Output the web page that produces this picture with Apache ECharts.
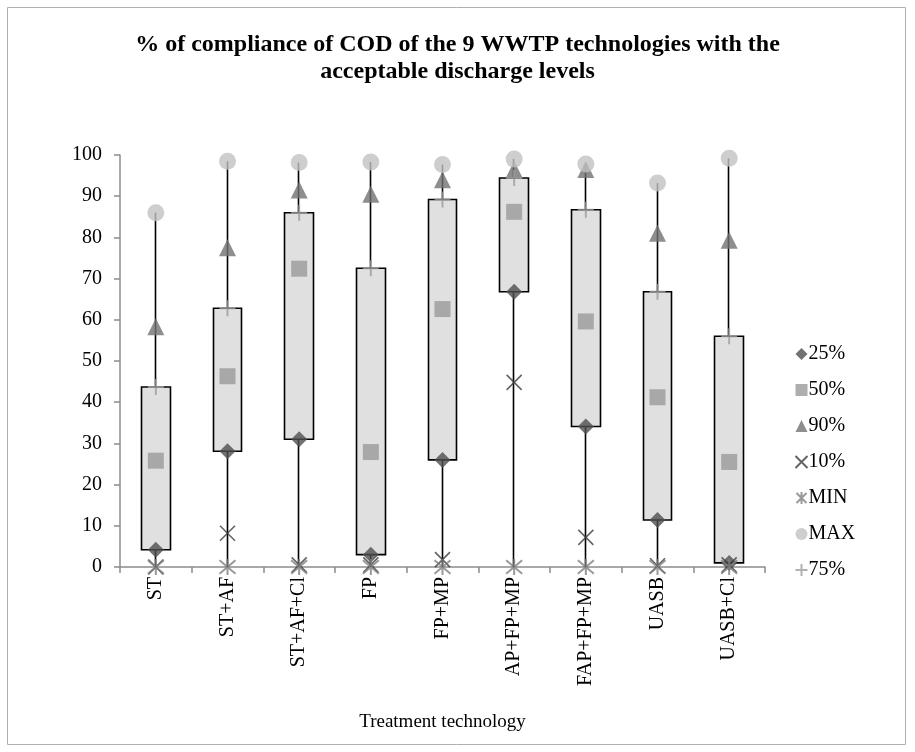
<!DOCTYPE html>
<html>
<head>
<meta charset="utf-8">
<script src="https://cdn.jsdelivr.net/npm/echarts@6/dist/echarts.min.js"></script>
<style>
  html, body { margin: 0; padding: 0; background: #fff; }
  #chart { width: 915px; height: 752px; }
</style>
</head>
<body>
<div id="chart"></div>
<script>
// Treatment technologies on the category axis
var categories = ['ST', 'ST+AF', 'ST+AF+Cl', 'FP', 'FP+MP', 'AP+FP+MP', 'FAP+FP+MP', 'UASB', 'UASB+Cl'];

// Percentile statistics of COD compliance (%) for each technology
var p25 = [4.2, 28.1, 31.0, 3.0, 26.0, 66.8, 34.1, 11.4, 1.0];
var p50 = [25.8, 46.3, 72.4, 27.9, 62.6, 86.2, 59.6, 41.2, 25.5];
var p90 = [58.3, 77.5, 91.5, 90.5, 94.0, 96.5, 96.5, 81.0, 79.3];
var p10 = [0.0, 8.2, 0.5, 0.5, 1.8, 44.8, 7.2, 0.3, 0.5];
var minV = [0, 0, 0, 0, 0, 0, 0, 0, 0];
var maxV = [86.0, 98.5, 98.2, 98.3, 97.7, 99.0, 97.8, 93.2, 99.2];
var p75 = [43.7, 62.8, 86.0, 72.5, 89.2, 94.4, 86.7, 66.8, 56.0];

var yTicks = [0, 10, 20, 30, 40, 50, 60, 70, 80, 90, 100];

var FONT = '"Liberation Serif", "Times New Roman", serif';

// candlestick: box spans 25%..75%, wick spans MIN..MAX
var boxData = categories.map(function (c, i) {
  return [p25[i], p75[i], minV[i], maxV[i]];
});

var PATH_X = 'path://M0,0L10,10M10,0L0,10';
var PATH_STAR = 'path://M0,0L10,10M10,0L0,10M5,-1L5,11';
var PATH_PLUS = 'path://M5,0L5,10M0,5L10,5';

function scatter(name, data, symbol, size, style, z) {
  return {
    name: name,
    type: 'scatter',
    data: data,
    symbol: symbol,
    symbolSize: size,
    itemStyle: style,
    z: z,
    emphasis: { disabled: true },
    animation: false
  };
}

var chart = echarts.init(document.getElementById('chart'), null, { renderer: 'canvas' });

chart.setOption({
  animation: false,
  backgroundColor: '#ffffff',
  title: {
    text: '% of compliance of COD of the 9 WWTP technologies with the\nacceptable discharge levels',
    left: 'center',
    top: 26,
    textStyle: {
      fontFamily: FONT,
      fontWeight: 'bold',
      fontSize: 24,
      lineHeight: 27,
      color: '#000'
    }
  },
  graphic: [{
    type: 'rect',
    shape: { x: 7.5, y: 7.5, width: 898, height: 737 },
    style: { fill: 'none', stroke: '#b0b0b0', lineWidth: 1 },
    silent: true
  }],
  grid: { left: 120, right: 150, top: 155, bottom: 185 },
  legend: {
    orient: 'vertical',
    left: 788,
    top: 339,
    itemWidth: 12,
    itemHeight: 12,
    itemGap: 16,
    data: ['25%', '50%', '90%', '10%', 'MIN', 'MAX', '75%'],
    textStyle: { fontFamily: FONT, fontSize: 20, color: '#000', padding: [0, 0, 0, -4] }
  },
  xAxis: {
    type: 'category',
    data: categories,
    boundaryGap: true,
    name: 'Treatment technology',
    nameLocation: 'middle',
    nameGap: 146,
    nameTextStyle: { fontFamily: FONT, fontSize: 19, color: '#000' },
    axisLine: { lineStyle: { color: '#8c8c8c', width: 1.5 } },
    axisTick: { show: true, length: 6, lineStyle: { color: '#8c8c8c', width: 1.5 } },
    axisLabel: { rotate: 90, fontFamily: FONT, fontSize: 20, color: '#000', margin: 10 },
    splitLine: { show: false }
  },
  yAxis: {
    type: 'value',
    min: yTicks[0],
    max: yTicks[yTicks.length - 1],
    interval: 10,
    axisLine: { show: true, lineStyle: { color: '#8c8c8c', width: 1.5 } },
    axisTick: { show: true, length: 6, lineStyle: { color: '#8c8c8c', width: 1.5 } },
    axisLabel: { fontFamily: FONT, fontSize: 20, color: '#000', margin: 18 },
    splitLine: { show: false }
  },
  series: [
    {
      name: 'range',
      type: 'candlestick',
      data: boxData,
      barWidth: 29,
      z: 2,
      itemStyle: {
        color: '#e0e0e0', color0: '#e0e0e0',
        borderColor: '#000', borderColor0: '#000',
        borderWidth: 1.6
      },
      emphasis: { disabled: true },
      animation: false
    },
    scatter('25%', p25, 'diamond', 16, { color: '#4f4f4f' }, 5),
    scatter('50%', p50, 'rect', 16, { color: '#9a9a9a' }, 5),
    scatter('90%', p90, 'triangle', 17, { color: '#727272' }, 5),
    scatter('10%', p10, PATH_X, 15, { color: 'none', borderColor: '#3c3c3c', borderWidth: 1.6 }, 6),
    scatter('MIN', minV, PATH_STAR, 16, { color: 'none', borderColor: '#7f7f7f', borderWidth: 2 }, 7),
    scatter('MAX', maxV, 'circle', 17, { color: '#c2c2c2' }, 5),
    scatter('75%', p75, PATH_PLUS, 16, { color: 'none', borderColor: '#9e9e9e', borderWidth: 2 }, 6)
  ]
});
</script>
</body>
</html>
